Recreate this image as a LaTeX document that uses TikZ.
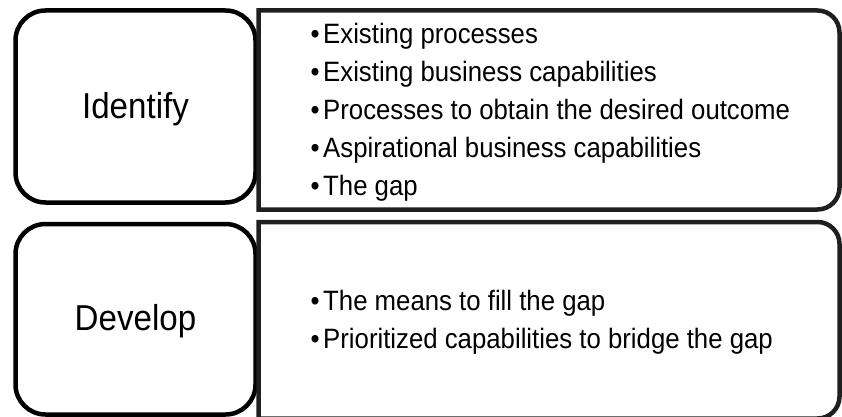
\documentclass[tikz,border=0pt]{standalone}
\usepackage{fontspec}
\setmainfont[FakeStretch=0.92]{Liberation Sans}
\definecolor{rightline}{HTML}{1F1F1F}
\tikzset{
  leftbox/.style={draw=black, line width=4.5pt, rounded corners=30pt, minimum width=240pt,
    inner sep=0pt, font=\fontsize{36}{40}\selectfont, text height=23.2pt, text depth=0pt},
  rightbox/.style={draw=rightline, line width=4.5pt},
  bullettext/.style={anchor=base west, inner sep=0pt, font=\fontsize{28}{34}\selectfont}
}
\begin{document}
\begin{tikzpicture}[x=1pt,y=1pt]
\useasboundingbox (0,0) rectangle (842,416);
% left boxes
\node[leftbox, minimum height=192pt] (identify) at (135.5,309.5) {Identify};
\node[leftbox, minimum height=190.5pt] (develop) at (135.5,96.75) {Develop};
% right boxes
\draw[rightbox] (258.5,206.5) -- (258.5,405.5) -- (817.5,405.5)
  arc[start angle=90, end angle=0, radius=22pt] -- (839.5,228.5)
  arc[start angle=0, end angle=-90, radius=22pt] -- cycle;
\draw[rightbox] (258.5,-2.5) -- (258.5,194) -- (817.5,194)
  arc[start angle=90, end angle=0, radius=22pt] -- (839.5,19.5)
  arc[start angle=0, end angle=-90, radius=22pt] -- cycle;
% bullets
\node[bullettext] (i1) at (310.5,372.7) {•\hspace{3.5pt}Existing processes};
\node[bullettext] (i2) at (310.5,334.6) {•\hspace{3.5pt}Existing business capabilities};
\node[bullettext] (i3) at (310.5,296.5) {•\hspace{3.5pt}Processes to obtain the desired outcome};
\node[bullettext] (i4) at (310.5,258.4) {•\hspace{3.5pt}Aspirational business capabilities};
\node[bullettext] (i5) at (310.5,220.3) {•\hspace{3.5pt}The gap};
\node[bullettext] (d1) at (310.5,106) {•\hspace{3.5pt}The means to fill the gap};
\node[bullettext] (d2) at (310.5,68) {•\hspace{3.5pt}Prioritized capabilities to bridge the gap};
\end{tikzpicture}
\end{document}
